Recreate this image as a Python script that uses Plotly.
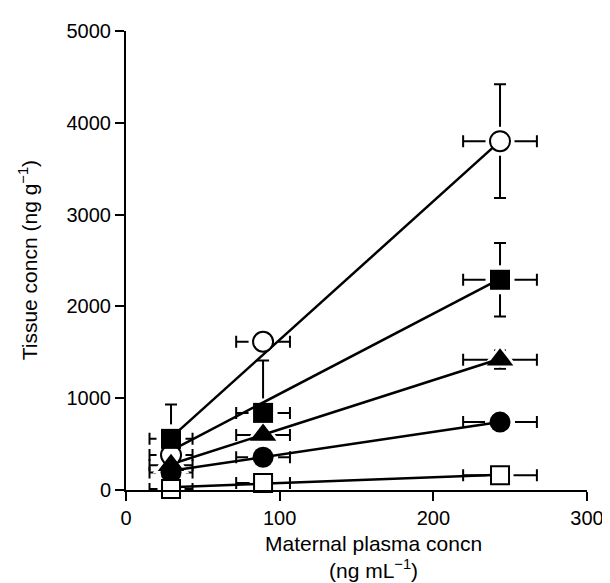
import plotly.graph_objects as go

# ---- data ----
plasma_x = [29.3, 89.2, 243.4]          # maternal plasma concn (ng/mL) per dose group
plasma_x_err = [14, 17.5, 24]

series_names = ["open circle", "filled square", "filled triangle", "filled circle", "open square"]
tissue_open_circle = [380, 1615, 3800]
tissue_filled_square = [557, 840, 2290]
tissue_filled_triangle = [270, 600, 1420]
tissue_filled_circle = [190, 357, 740]
tissue_open_square = [10, 75, 160]

err_open_circle = [120, 100, 620]
err_filled_square = [375, 570, 400]
err_filled_triangle = [60, 80, 100]
err_filled_circle = [40, 50, 80]
err_open_square = [10, 20, 40]

# fitted regression line values at lowest and highest plasma concn
fit_start = [570, 430, 280, 210, 30]
fit_end = [3800, 2300, 1430, 740, 165]

x_ticks = [0, 100, 200, 300]
y_ticks = [0, 1000, 2000, 3000, 4000, 5000]

values = [tissue_open_circle, tissue_filled_square, tissue_filled_triangle,
          tissue_filled_circle, tissue_open_square]
errors = [err_open_circle, err_filled_square, err_filled_triangle,
          err_filled_circle, err_open_square]

styles = [
    dict(symbol="circle", color="white", line=dict(color="black", width=2), size=20),
    dict(symbol="square", color="black", line=dict(color="black", width=0), size=20),
    dict(symbol="triangle-up", color="black", line=dict(color="black", width=0), size=23),
    dict(symbol="circle", color="black", line=dict(color="black", width=0), size=21),
    dict(symbol="square", color="white", line=dict(color="black", width=2), size=18),
]

fig = go.Figure()

# error bars
for v, e in zip(values, errors):
    fig.add_trace(go.Scatter(
        x=plasma_x, y=v, mode="markers",
        marker=dict(size=2, opacity=0),
        error_y=dict(type="data", array=e, visible=True, color="black", thickness=2, width=6),
        error_x=dict(type="data", array=plasma_x_err, visible=True, color="black", thickness=2, width=6),
        cliponaxis=False, showlegend=False, hoverinfo="skip"))

# white halos to leave a small gap between marker and error bars
for v, s in zip(values, styles):
    fig.add_trace(go.Scatter(
        x=plasma_x, y=v, mode="markers",
        marker=dict(symbol=s["symbol"], size=s["size"] + 9, color="white", line=dict(width=0)),
        cliponaxis=False, showlegend=False, hoverinfo="skip"))

# regression lines
for a, b in zip(fit_start, fit_end):
    fig.add_trace(go.Scatter(
        x=[plasma_x[0], plasma_x[-1]], y=[a, b], mode="lines",
        line=dict(color="black", width=2.5),
        cliponaxis=False, showlegend=False, hoverinfo="skip"))

# markers
for name, v, s in zip(series_names, values, styles):
    fig.add_trace(go.Scatter(
        x=plasma_x, y=v, mode="markers", name=name,
        marker=s, cliponaxis=False, showlegend=False))

axis_font = dict(family="Liberation Sans, Arial, sans-serif", size=20, color="black")
title_font = dict(family="Liberation Sans, Arial, sans-serif", size=21, color="black")

fig.update_layout(
    width=610, height=583,
    margin=dict(l=118, r=31, t=16, b=101),
    plot_bgcolor="white", paper_bgcolor="white",
    font=axis_font,
    xaxis=dict(range=[0, 300], tickvals=x_ticks, showline=True, linecolor="black",
               linewidth=2, ticks="outside", ticklen=9, tickwidth=2, tickcolor="black",
               showgrid=False, zeroline=False, tickfont=axis_font),
    yaxis=dict(range=[0, 5000], tickvals=y_ticks, showline=True, linecolor="black",
               linewidth=2, ticks="outside", ticklen=9, tickwidth=2, tickcolor="black",
               showgrid=False, zeroline=False, tickfont=axis_font),
    annotations=[
        dict(text="Maternal plasma concn<br>(ng mL<sup>−1</sup>)", xref="paper", yref="paper",
             x=0.537, y=-0.146, xanchor="center", yanchor="middle", align="center",
             showarrow=False, font=title_font),
        dict(text="Tissue concn (ng g<sup>−1</sup>)", xref="paper", yref="paper", x=-0.213, y=0.5,
             xanchor="center", yanchor="middle", textangle=-90, showarrow=False, font=title_font),
    ],
)

fig.write_html("out.html")
